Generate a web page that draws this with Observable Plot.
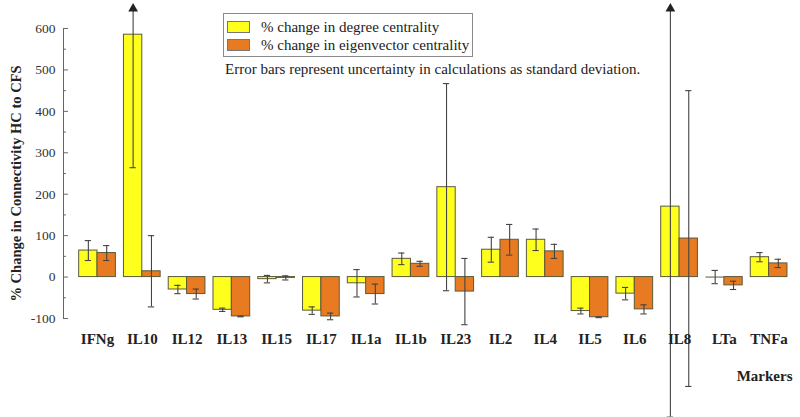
<!DOCTYPE html>
<html>
<head>
<meta charset="utf-8">
<script src="https://cdn.jsdelivr.net/npm/d3@7"></script>
<script src="https://cdn.jsdelivr.net/npm/@observablehq/plot@0.6"></script>
<style>
  html, body { margin: 0; padding: 0; background: #fff; }
  #wrap { position: relative; width: 800px; height: 417px; font-family: "Liberation Serif", "Times New Roman", serif; }
  #legend { position: absolute; left: 223px; top: 13px; width: 250px; height: 44px; border: 1px solid #8a8a8a; box-sizing: border-box; background: #fff; }
  .row { position: absolute; left: 3px; height: 14px; display: flex; align-items: center; font-size: 15px; color: #222; white-space: nowrap; }
  .sw { width: 23px; height: 12px; border: 1px solid #777; margin-right: 11px; box-sizing: border-box; }
  #note { position: absolute; left: 225px; top: 61px; font-size: 15px; color: #222; white-space: nowrap; }
</style>
</head>
<body>
<div id="wrap">
  <div id="chart"></div>
  <div id="legend">
    <div class="row" style="top:6px"><div class="sw" style="background:#ffff1e"></div>% change in degree centrality</div>
    <div class="row" style="top:24px"><div class="sw" style="background:#e87a22"></div>% change in eigenvector centrality</div>
  </div>
  <div id="note">Error bars represent uncertainty in calculations as standard deviation.</div>
</div>
<script>
const categories = ["IFNg","IL10","IL12","IL13","IL15","IL17","IL1a","IL1b","IL23","IL2","IL4","IL5","IL6","IL8","LTa","TNFa"];
const degree      = [64, 585, -30, -79, -5, -81, -15, 44, 217, 66, 90, -82, -40, 170, 0, 48];
const degreeErr   = [24, 321, 10, 4, 9, 9, 33, 14, 250, 30, 26, 7, 15, 508, 16, 11];
const eigen       = [58, 14, -41, -95, -2, -95, -41, 32, -35, 90, 62, -97, -78, 93, -20, 33];
const eigenErr    = [18, 86, 12, 1, 5, 8, 24, 6, 80, 37, 17, 1, 11, 357, 10, 10];
const yTicks      = [-100, 0, 100, 200, 300, 400, 500, 600];
const yMinorTicks = [-50, 50, 150, 250, 350, 450, 550];
const seriesNames = ["degree", "eigen"];
const colors      = ["#ffff1e", "#e87a22"];

const xMin = -0.76, xMax = 15.5, yMin = -100, yMax = 600, yCap = 648;
const half = 0.41, capHalf = 0.07;

const rows = [];
categories.forEach((c, i) => {
  rows.push({cat: c, s: 0, value: degree[i], err: degreeErr[i], x1: i - half, x2: i, xc: i - half / 2});
  rows.push({cat: c, s: 1, value: eigen[i], err: eigenErr[i], x1: i, x2: i + half, xc: i + half / 2});
});
rows.forEach(r => {
  r.lo = r.value - r.err;
  r.hiRaw = r.value + r.err;
  r.clipped = r.hiRaw > yCap;
  r.hi = Math.min(r.hiRaw, yCap);
});

const plot = Plot.plot({
  width: 800,
  height: 417,
  marginLeft: 63,
  marginRight: 9,
  marginTop: 28,
  marginBottom: 99,
  x: {domain: [xMin, xMax], axis: null},
  y: {domain: [yMin, yMax], axis: null},
  style: {fontFamily: "'Liberation Serif', 'Times New Roman', serif", background: "transparent", overflow: "visible"},
  marks: [
    Plot.rect(rows, {x1: "x1", x2: "x2", y1: 0, y2: "value", fill: d => colors[d.s], stroke: "#5a5a3a", strokeWidth: 1}),
    Plot.ruleY(rows.filter(d => d.value === 0), {y: 0, x1: "x1", x2: "x2", stroke: "#5a5a3a", strokeWidth: 1}),
    Plot.ruleX(rows, {x: "xc", y1: "lo", y2: "hi", stroke: "#444", strokeWidth: 1.1}),
    Plot.ruleY(rows, {y: "lo", x1: d => d.xc - capHalf, x2: d => d.xc + capHalf, stroke: "#444", strokeWidth: 1.1}),
    Plot.ruleY(rows.filter(d => !d.clipped), {y: "hi", x1: d => d.xc - capHalf, x2: d => d.xc + capHalf, stroke: "#444", strokeWidth: 1.1}),
    Plot.dot(rows.filter(d => d.clipped), {x: "xc", y: "hi", symbol: "triangle", r: 3.6, fill: "#222", stroke: "none"}),
    // y axis line and ticks
    Plot.ruleX([xMin], {y1: yMin, y2: yMax, stroke: "#666", strokeWidth: 1}),
    Plot.ruleY(yTicks, {y: d => d, x1: xMin, x2: xMin + 0.11, stroke: "#666"}),
    Plot.ruleY(yMinorTicks, {y: d => d, x1: xMin, x2: xMin + 0.065, stroke: "#666"}),
    Plot.axisY({ticks: yTicks, tickSize: 0, tickPadding: 8, tickFormat: d => String(d), fontSize: 13.5, label: null, fill: "#333"}),
    Plot.axisX({ticks: categories.map((c, i) => i), tickFormat: i => categories[i], tickSize: 0, tickPadding: 15, fontSize: 15, fontWeight: "bold", label: null, fill: "#222"}),
    Plot.text(["Markers"], {frameAnchor: "bottom-right", dx: 1, dy: 62, fontSize: 15, fontWeight: "bold", fill: "#222"}),
    Plot.text(["% Change in Connectivity HC to CFS"], {frameAnchor: "left", textAnchor: "middle", rotate: -90, dx: -47, dy: 10, fontSize: 14.5, fontWeight: "bold", fill: "#222"})
  ]
});
document.getElementById("chart").appendChild(plot);
</script>
</body>
</html>
